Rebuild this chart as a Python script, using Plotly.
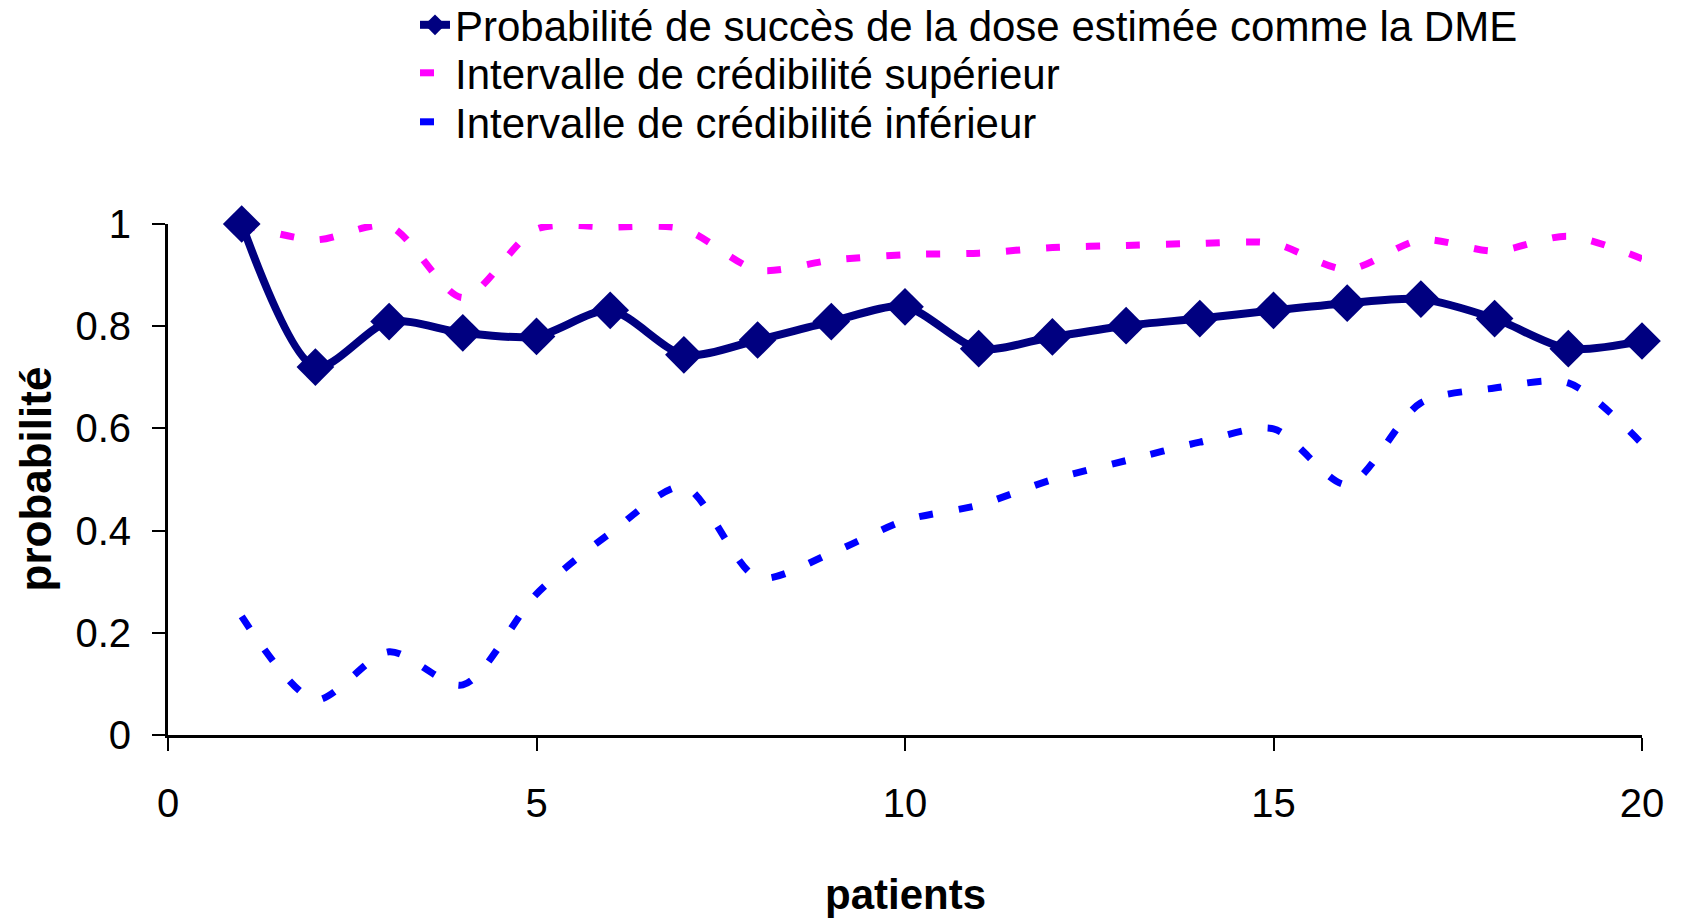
import plotly.graph_objects as go

patients = list(range(1, 21))
prob_dme = [1.0, 0.72, 0.809, 0.787, 0.78, 0.831, 0.744, 0.773, 0.809, 0.838,
            0.756, 0.779, 0.801, 0.815, 0.831, 0.845, 0.853, 0.815, 0.756, 0.771]
ic_sup = [1.0, 0.969, 0.996, 0.856, 0.99, 0.994, 0.99, 0.91, 0.929, 0.94,
          0.943, 0.954, 0.958, 0.962, 0.962, 0.911, 0.969, 0.947, 0.976, 0.932]
ic_inf = [0.232, 0.069, 0.163, 0.098, 0.276, 0.395, 0.486, 0.308, 0.356, 0.42,
          0.45, 0.50, 0.537, 0.573, 0.599, 0.49, 0.65, 0.679, 0.689, 0.57]

names = ["Probabilité de succès de la dose estimée comme la DME",
         "Intervalle de crédibilité supérieur",
         "Intervalle de crédibilité inférieur"]

regular = "Liberation Sans Narrow, Arial Narrow, Liberation Sans, Arial, sans-serif"
bold = "Liberation Sans, Arial, sans-serif"

W, H = 1683, 919
ML, MR, MT, MB = 168, 41, 224, 184
PW, PH = W - ML - MR, H - MT - MB

fig = go.Figure()
fig.add_trace(go.Scatter(
    x=patients, y=ic_sup, name=names[1], mode="lines", legend="legend2",
    line=dict(color="#FF00FF", width=7, dash="14px,26px", shape="spline", smoothing=0.8),
    cliponaxis=False))
fig.add_trace(go.Scatter(
    x=patients, y=ic_inf, name=names[2], mode="lines", legend="legend3",
    line=dict(color="#0000FF", width=7, dash="14px,26px", shape="spline", smoothing=0.8),
    cliponaxis=False))
fig.add_trace(go.Scatter(
    x=patients, y=prob_dme, name=names[0], mode="lines+markers", legend="legend",
    line=dict(color="#000080", width=8, shape="spline", smoothing=0.8),
    marker=dict(symbol="diamond", size=29, color="#000080"),
    cliponaxis=False))

leg_font = dict(family=regular, size=42, color="black")
lx = (415 - ML) / PW


def leg(ypix):
    return dict(x=lx, y=1 - ypix / H, xref="paper", yref="container",
                xanchor="left", yanchor="middle", font=leg_font,
                bgcolor="rgba(0,0,0,0)", borderwidth=0)


fig.update_layout(
    width=W, height=H,
    margin=dict(l=ML, r=MR, t=MT, b=MB),
    paper_bgcolor="white", plot_bgcolor="white",
    font=dict(family=regular, size=40, color="black"),
    showlegend=True,
    legend=leg(25), legend2=leg(73), legend3=leg(122),
    xaxis=dict(range=[0, 20], tickvals=[0, 5, 10, 15, 20], showgrid=False, zeroline=False,
               showline=True, linecolor="black", linewidth=3,
               ticks="outside", ticklen=13, tickwidth=2, tickcolor="black",
               ticklabelstandoff=18,
               tickfont=dict(family=regular, size=40)),
    yaxis=dict(range=[0, 1], tickvals=[0, 0.2, 0.4, 0.6, 0.8, 1],
               ticktext=["0", "0.2", "0.4", "0.6", "0.8", "1"], showgrid=False, zeroline=False,
               showline=True, linecolor="black", linewidth=3,
               ticks="outside", ticklen=13, tickwidth=2, tickcolor="black",
               ticklabelstandoff=13,
               tickfont=dict(family=regular, size=40)),
    annotations=[
        dict(text="<b>patients</b>", x=0.5, xref="paper", y=-(894 - (MT + PH)) / PH,
             yref="paper", yanchor="middle", showarrow=False,
             font=dict(family=bold, size=42)),
        dict(text="<b>probabilité</b>", x=-(ML - 35) / PW, xanchor="center",
             y=0.5, xref="paper", yref="paper",
             textangle=-90, showarrow=False, font=dict(family=bold, size=44)),
    ],
)

fig.write_html("out.html")
